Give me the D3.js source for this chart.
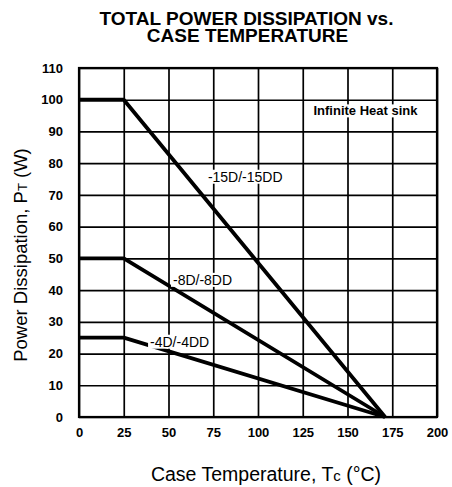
<!DOCTYPE html>
<html>
<head>
<meta charset="utf-8">
<script src="https://cdn.jsdelivr.net/npm/d3@7"></script>
<style>
  body { margin: 0; background: #fff; }
  text { font-family: "Liberation Sans", Arial, sans-serif; fill: #000; }
</style>
</head>
<body>
<svg id="chart"></svg>
<script>
// case temperature (°C) and power dissipation (W) for each device
const series_names = ['-15D/-15DD', '-8D/-8DD', '-4D/-4DD'];
const temp_points = [0, 25, 171];
const power_15d = [100, 100, 0];
const power_8d = [50, 50, 0];
const power_4d = [25, 25, 0];
const x_ticks = [0, 25, 50, 75, 100, 125, 150, 175, 200];
const y_ticks = [0, 10, 20, 30, 40, 50, 60, 70, 80, 90, 100, 110];

const width = 452, height = 487;
const margin = { top: 68, right: 15, bottom: 70, left: 79 };
const inner_width = width - margin.left - margin.right;
const inner_height = height - margin.top - margin.bottom;

const svg = d3.select('#chart')
    .attr('width', width)
    .attr('height', height);

const chart = svg.append('g')
    .attr('transform', `translate(${margin.left}, ${margin.top})`);

const xscale = d3.scaleLinear().domain([0, 200]).range([0, inner_width]);
const yscale = d3.scaleLinear().domain([0, 110]).range([inner_height, 0]);

// grid
chart.append('g')
    .attr('transform', `translate(0, ${inner_height})`)
    .call(d3.axisBottom(xscale).tickValues(x_ticks).tickSize(-inner_height).tickFormat(''));
chart.append('g')
    .call(d3.axisLeft(yscale).tickValues(y_ticks).tickSize(-inner_width).tickFormat(''));
chart.selectAll('.domain').remove();
chart.selectAll('.tick line').attr('stroke', '#000').attr('stroke-width', 1.7);

chart.append('rect')
    .attr('width', inner_width)
    .attr('height', inner_height)
    .attr('fill', 'none')
    .attr('stroke', '#000')
    .attr('stroke-width', 2.2);

// tick labels
const xlabels = chart.append('g')
    .attr('transform', `translate(0, ${inner_height})`)
    .call(d3.axisBottom(xscale).tickValues(x_ticks).tickSize(0).tickPadding(11));
const ylabels = chart.append('g')
    .call(d3.axisLeft(yscale).tickValues(y_ticks).tickSize(0).tickPadding(16));
[xlabels, ylabels].forEach(g => {
    g.select('.domain').remove();
    g.selectAll('text')
        .attr('font-size', 13)
        .attr('font-weight', 'bold')
        .attr('font-family', '"Liberation Sans", Arial, sans-serif');
});

// series lines
const line = d3.line()
    .x((d, i) => xscale(temp_points[i]))
    .y(d => yscale(d));

[power_15d, power_8d, power_4d].forEach(s => {
    chart.append('path')
        .attr('d', line(s))
        .attr('stroke', '#000')
        .attr('stroke-width', 3.8)
        .attr('stroke-linejoin', 'round')
        .attr('fill', 'none');
});

// labels with white background
function label(txt, x, y, size, bold) {
    const t = chart.append('text')
        .attr('x', xscale(x))
        .attr('y', yscale(y))
        .attr('dy', '0.35em')
        .attr('font-size', size)
        .attr('font-weight', bold ? 'bold' : 'normal')
        .text(txt);
    const b = t.node().getBBox();
    chart.insert('rect', () => t.node())
        .attr('x', b.x - 2)
        .attr('y', b.y + 1)
        .attr('width', b.width + 4)
        .attr('height', b.height - 2)
        .attr('fill', '#fff');
}
label(series_names[0], 72, 75.7, 14, false);
label(series_names[1], 52.5, 43.2, 14, false);
label(series_names[2], 39.7, 23.7, 14, false);
label('Infinite Heat sink', 131, 96.5, 13, true);

// title
svg.append('text')
    .attr('x', 246.5)
    .attr('y', 25)
    .attr('text-anchor', 'middle')
    .attr('font-size', 19)
    .attr('font-weight', 'bold')
    .text('TOTAL POWER DISSIPATION vs.');
svg.append('text')
    .attr('x', 247.5)
    .attr('y', 41.5)
    .attr('text-anchor', 'middle')
    .attr('font-size', 19)
    .attr('font-weight', 'bold')
    .text('CASE TEMPERATURE');

// axis titles
const xt = svg.append('text')
    .attr('x', 266)
    .attr('y', 481)
    .attr('text-anchor', 'middle')
    .attr('font-size', 19.5);
xt.append('tspan').text('Case Temperature, T');
xt.append('tspan').attr('font-size', 15).text('c');
xt.append('tspan').text(' (°C)');

const yt = svg.append('text')
    .attr('transform', 'translate(27, 255) rotate(-90)')
    .attr('text-anchor', 'middle')
    .attr('font-size', 18.5);
yt.append('tspan').text('Power Dissipation, P');
yt.append('tspan').attr('font-size', 13).text('T');
yt.append('tspan').text(' (W)');
</script>
</body>
</html>
